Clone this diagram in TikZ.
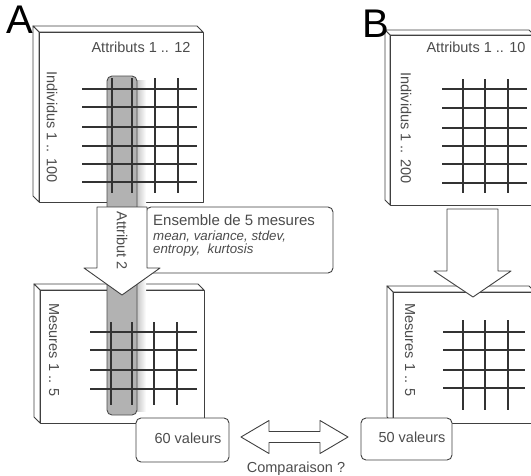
\documentclass[tikz,border=0pt]{standalone}
\usepackage{fontspec}
\setmainfont{Liberation Sans}
\begin{document}
\begin{tikzpicture}[x=1pt,y=-1pt,line join=round,
  frame/.style={draw=black!75,line width=0.9pt,fill=white},
  gridline/.style={draw=black!80,line width=1.2pt},
  lbl/.style={text=black!70,font=\fontsize{14.5}{16}\selectfont,inner sep=0pt},
  itl/.style={text=black!70,font=\fontsize{13.3}{15}\selectfont\itshape,inner sep=0pt},
  big/.style={text=black,font=\fontsize{40}{40}\selectfont,inner sep=0pt},
  rbox/.style={draw=black!75,line width=0.9pt,fill=white,rounded corners=5pt},
  fatarrow/.style={draw=black!75,line width=0.9pt,fill=white}]
\useasboundingbox (0,0) rectangle (531,475);

% ---- cube boxes: front face + top and left faces (depth 6)
% A top
\filldraw[frame] (33,26) -- (197,26) -- (203,32) -- (39,32) -- cycle;
\filldraw[frame] (33,26) -- (39,32) -- (39,202) -- (33,196) -- cycle;
\filldraw[frame] (39,32) rectangle (203,202);
% A bottom
\filldraw[frame] (34,284) -- (198,284) -- (204,290) -- (40,290) -- cycle;
\filldraw[frame] (34,284) -- (40,290) -- (40,423) -- (34,417) -- cycle;
\filldraw[frame] (40,290) rectangle (204,423);
% B top
\filldraw[frame] (385,30) -- (529,30) -- (534,35) -- (390,35) -- cycle;
\filldraw[frame] (385,30) -- (390,35) -- (390,205) -- (385,200) -- cycle;
\filldraw[frame] (390,35) rectangle (534,205);
% B bottom
\filldraw[frame] (387,286) -- (529,286) -- (535,292) -- (393,292) -- cycle;
\filldraw[frame] (387,286) -- (393,292) -- (393,423) -- (387,417) -- cycle;
\filldraw[frame] (393,292) rectangle (535,423);

% ---- highlighted column (Attribut 2)
\shade[left color=black!22,right color=white] (137,80) rectangle (146,411);
\filldraw[draw=black!70,line width=0.9pt,fill=black!30,rounded corners=5pt] (107,76) rectangle (137,415);

% ---- grids
\foreach \y in {89,107,127,146,164,182} \draw[gridline] (82,\y) -- (197,\y);
\foreach \x in {112,132,155,178} \draw[gridline] (\x,78) -- (\x,193);
\foreach \y in {332,350,370,389} \draw[gridline] (90,\y) -- (197,\y);
\foreach \x in {111,132,154,177} \draw[gridline] (\x,322) -- (\x,405);
\foreach \y in {89,108,128,146,164,183} \draw[gridline] (442,\y) -- (527,\y);
\foreach \x in {463,485,508} \draw[gridline] (\x,79) -- (\x,193);
\foreach \y in {332,350,370,388} \draw[gridline] (443,\y) -- (525,\y);
\foreach \x in {463,485,508} \draw[gridline] (\x,320) -- (\x,410);

% ---- labels in the boxes
\node[lbl,anchor=base] (attA) at (141,52) {Attributs 1 .. 12};
\node[lbl,anchor=base] (attB) at (476,52) {Attributs 1 .. 10};
\node[lbl,rotate=-90] (indA) at (52,127) {Individus 1 .. 100};
\node[lbl,rotate=-90] (indB) at (406,128) {Individus 1 .. 200};
\node[lbl,rotate=-90] (mesA) at (54,350) {Mesures 1 .. 5};
\node[lbl,rotate=-90] (mesB) at (410,350) {Mesures 1 .. 5};

% ---- text box
\filldraw[rbox] (146,207) rectangle (333,273);
\node[lbl,anchor=base west,font=\fontsize{15}{16}\selectfont] (ens) at (153,225) {Ensemble de 5 mesures};
\node[itl,anchor=base west] (ens2) at (153,240) {mean, variance, stdev,};
\node[itl,anchor=base west] (ens3) at (153,253) {entropy,\ \ kurtosis};

% ---- down arrows
\filldraw[fatarrow] (97,207) -- (147,207) -- (147,268) -- (160,268) -- (122,295)
   -- (84,268) -- (97,268) -- cycle;
\node[lbl,rotate=-90] (att2) at (122,241) {Attribut 2};
\filldraw[fatarrow] (447,209) -- (498,209) -- (498,271) -- (511,271) -- (473,297)
   -- (434,271) -- (447,271) -- cycle;

% ---- result boxes
\node[rbox,minimum width=93pt,minimum height=44pt] (valA) at (182.5,440) {};
\node[lbl,anchor=base] at (188,443) {60 valeurs};
\node[rbox,minimum width=91pt,minimum height=42pt] (valB) at (406.5,439) {};
\node[lbl,anchor=base] at (412,442) {50 valeurs};

% ---- double arrow
\filldraw[fatarrow] (241,437) -- (269,420.5) -- (269,431.5) -- (320,431.5) -- (320,420.5)
  -- (348,437) -- (320,453.5) -- (320,442.5) -- (269,442.5) -- (269,453.5) -- cycle;
\node[lbl,anchor=base] (comp) at (296,472) {Comparaison ?};

% ---- big letters
\node[big,anchor=base west] (letA) at (6,33) {A};
\node[big,anchor=base west] (letB) at (362,37) {B};
\end{tikzpicture}
\end{document}
